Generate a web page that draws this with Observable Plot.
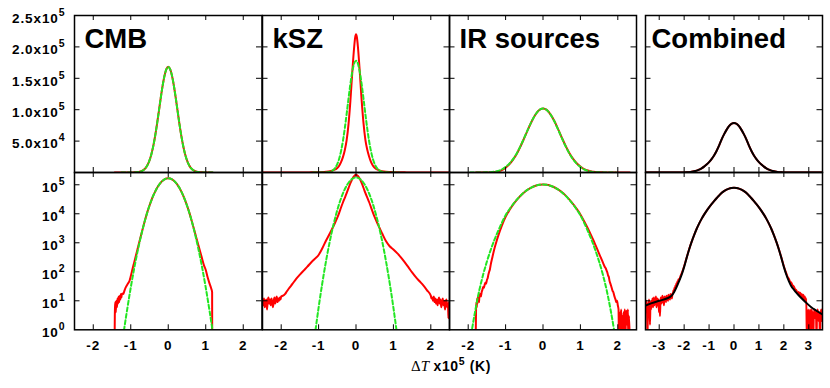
<!DOCTYPE html>
<html><head><meta charset="utf-8">
<script src="https://cdn.jsdelivr.net/npm/d3@7"></script>
<script src="https://cdn.jsdelivr.net/npm/@observablehq/plot@0.6"></script>
<style>
body{margin:0;background:#fff;}
#chart{position:relative;width:830px;height:388px;font-family:'Liberation Sans',Arial,Helvetica,sans-serif;background:#fff;}
.panel{position:absolute;}
#xlabel{position:absolute;left:331px;width:240px;top:358px;text-align:center;font-weight:bold;font-size:14px;line-height:16px;letter-spacing:0.6px;white-space:nowrap;}
#xlabel .dt{font-family:'Liberation Serif','Times New Roman',serif;font-weight:normal;font-size:15px;letter-spacing:0;}
#xlabel .sup{position:relative;top:-6px;font-size:10.5px;}
</style></head><body>
<div id="chart"><div id="xlabel"><span class="dt">&Delta;<i>T</i></span> x10<span class="sup">5</span> (K)</div></div>
<script>
// ---------- data ----------
const titles = ["CMB", "kSZ", "IR sources", "Combined"];
const xTicksA = [-2, -1, 0, 1, 2];
const xTicksB = [-3, -2, -1, 0, 1, 2, 3];
const linTicks = [50000, 100000, 150000, 200000];
const linLabels = [50000, 100000, 150000, 200000, 250000];
const logTicks = [10, 100, 1000, 10000, 100000];
const logLabels = [1, 10, 100, 1000, 10000, 100000];

const cmbFit = [[-1.25,0.2],[-1.2,0.63],[-1.1,4.6],[-1.0,28.5],[-0.9,149],[-0.8,650],[-0.7,2390],[-0.6,7380],[-0.55,12200],[-0.5,19200],[-0.45,29000],[-0.4,41900],[-0.35,58000],[-0.3,76900],[-0.25,97700],[-0.2,118700],[-0.15,138200],[-0.1,154000],[-0.05,164400],[0,168000],[0.05,164400],[0.1,154000],[0.15,138200],[0.2,118700],[0.25,97700],[0.3,76900],[0.35,58000],[0.4,41900],[0.45,29000],[0.5,19200],[0.55,12200],[0.6,7380],[0.7,2390],[0.8,650],[0.9,149],[1.0,28.5],[1.1,4.6],[1.2,0.63],[1.25,0.2]];
const cmbData = [[-1.43,0.5],[-1.425,3],[-1.42,6],[-1.41,9],[-1.40,4],[-1.39,8],[-1.38,10],[-1.37,6],[-1.36,9],[-1.35,12],[-1.34,8],[-1.33,11],[-1.32,14],[-1.31,9],[-1.30,13],[-1.29,15],[-1.28,11],[-1.27,14],[-1.26,17],[-1.25,13],[-1.24,16],[-1.22,18],[-1.20,17],[-1.17,22],[-1.14,28],[-1.11,33],[-1.07,40],[-1.03,50],[-1.0,70],[-0.95,130],[-0.9,230],[-0.85,420],[-0.8,760],[-0.7,2450],[-0.6,7450],[-0.55,12300],[-0.5,19300],[-0.45,29100],[-0.4,42000],[-0.35,58100],[-0.3,77000],[-0.25,97800],[-0.2,118800],[-0.15,138300],[-0.1,154200],[-0.05,164600],[0,168400],[0.05,164500],[0.1,154100],[0.15,138200],[0.2,118700],[0.25,97600],[0.3,76800],[0.35,57900],[0.4,41900],[0.45,29000],[0.5,19300],[0.55,12300],[0.6,7450],[0.7,2550],[0.8,850],[0.85,500],[0.9,290],[0.95,170],[1.0,115],[1.05,65],[1.1,40],[1.14,28],[1.17,20],[1.172,0.5]];

const kszFit = [[-1.15,0.21],[-1.1,0.66],[-1.0,5.8],[-0.9,41.3],[-0.8,239],[-0.75,534],[-0.7,1130],[-0.65,2265],[-0.6,4320],[-0.55,7820],[-0.5,13460],[-0.45,22000],[-0.4,34100],[-0.35,50200],[-0.3,70200],[-0.25,93300],[-0.2,117700],[-0.15,141100],[-0.1,160500],[-0.05,173500],[0,178000],[0.05,173500],[0.1,160500],[0.15,141100],[0.2,117700],[0.25,93300],[0.3,70200],[0.35,50200],[0.4,34100],[0.45,22000],[0.5,13460],[0.55,7820],[0.6,4320],[0.65,2265],[0.7,1130],[0.75,534],[0.8,239],[0.9,41.3],[1.0,5.8],[1.1,0.66],[1.15,0.21]];
const kszData = [[-2.5,10],[-2.48,7],[-2.46,12],[-2.44,6],[-2.42,9],[-2.4,11],[-2.38,5],[-2.36,10],[-2.34,13],[-2.32,8],[-2.3,11],[-2.28,7],[-2.26,12],[-2.24,9],[-2.22,6],[-2.2,10],[-2.18,13],[-2.16,8],[-2.14,11],[-2.12,14],[-2.1,9],[-2.08,12],[-2.06,10],[-2.04,13],[-2.02,11],[-2.0,14],[-1.95,15],[-1.9,17],[-1.85,21],[-1.8,26],[-1.7,38],[-1.6,57],[-1.5,80],[-1.4,110],[-1.3,150],[-1.2,210],[-1.1,280],[-1.0,380],[-0.9,650],[-0.8,1200],[-0.7,2100],[-0.6,3800],[-0.5,7300],[-0.45,10800],[-0.4,16500],[-0.35,24500],[-0.3,35500],[-0.25,51500],[-0.2,77000],[-0.15,114000],[-0.1,159000],[-0.05,199000],[-0.025,214000],[0,220000],[0.025,215000],[0.05,201000],[0.1,161000],[0.15,116000],[0.2,79000],[0.25,52500],[0.3,36500],[0.35,25500],[0.4,17000],[0.45,11200],[0.5,7600],[0.6,3900],[0.7,2100],[0.8,1150],[0.9,760],[1.0,590],[1.1,440],[1.2,316],[1.3,215],[1.4,144],[1.5,95],[1.6,65],[1.7,47],[1.8,34],[1.9,23],[2.0,15],[2.02,12],[2.04,13],[2.06,10],[2.08,14],[2.1,9],[2.12,12],[2.14,8],[2.16,11],[2.18,7],[2.2,10],[2.22,13],[2.24,8],[2.26,11],[2.28,6],[2.3,9],[2.32,12],[2.34,7],[2.36,10],[2.38,5],[2.4,9],[2.42,11],[2.44,6],[2.46,8],[2.47,2.5],[2.48,9],[2.5,7]];

const irFit = [[-1.95,0.4],[-1.9,1.0],[-1.8,5.5],[-1.7,24],[-1.6,80],[-1.5,225],[-1.4,560],[-1.3,1250],[-1.2,2550],[-1.1,4900],[-1.0,8900],[-0.9,14100],[-0.8,21300],[-0.7,30700],[-0.6,42300],[-0.5,55400],[-0.4,69000],[-0.3,81900],[-0.2,92400],[-0.1,99500],[0,102000],[0.1,99500],[0.2,92400],[0.3,81900],[0.4,69000],[0.5,55400],[0.6,42300],[0.7,30700],[0.8,21300],[0.9,14100],[1.0,8900],[1.1,4900],[1.2,2550],[1.3,1250],[1.4,560],[1.5,225],[1.6,80],[1.7,24],[1.8,5.5],[1.9,1.0],[1.95,0.4]];
const irData = [[-1.80,0.5],[-1.79,5],[-1.78,9],[-1.77,6],[-1.76,12],[-1.75,8],[-1.74,14],[-1.73,10],[-1.72,13],[-1.71,9],[-1.70,15],[-1.68,17],[-1.66,14],[-1.64,20],[-1.62,24],[-1.60,30],[-1.58,28],[-1.56,36],[-1.54,42],[-1.52,39],[-1.50,52],[-1.48,60],[-1.46,80],[-1.44,100],[-1.42,120],[-1.4,170],[-1.35,330],[-1.3,620],[-1.25,1050],[-1.2,1700],[-1.1,3900],[-1.0,7800],[-0.9,13200],[-0.8,20600],[-0.7,30000],[-0.6,41800],[-0.5,55000],[-0.4,68700],[-0.3,81700],[-0.2,92300],[-0.1,99400],[0,101800],[0.1,99700],[0.2,92600],[0.3,82300],[0.4,69500],[0.5,56000],[0.6,43000],[0.7,31500],[0.8,22000],[0.9,14800],[1.0,9500],[1.1,5500],[1.2,3100],[1.3,1650],[1.35,1200],[1.4,850],[1.45,600],[1.5,420],[1.55,300],[1.6,210],[1.65,150],[1.68,130],[1.7,110],[1.72,95],[1.74,75],[1.76,66],[1.78,48],[1.8,40],[1.82,33],[1.84,27],[1.86,22],[1.88,20],[1.9,16],[1.92,13],[1.94,11],[1.96,9],[1.98,10],[2.0,7],[2.02,5],[2.03,0.5],[2.05,0.5],[2.06,4],[2.08,2],[2.09,5],[2.1,1],[2.12,3],[2.14,0.5],[2.15,4],[2.17,2.5],[2.19,5],[2.2,0.5],[2.22,3],[2.24,4.5],[2.25,1.5],[2.27,5],[2.28,0.5],[2.3,3],[2.32,0.5]];

const combFit = [[-3.55,6.8],[-3.3,8.3],[-3.0,10],[-2.7,12],[-2.5,15],[-2.4,20],[-2.3,30],[-2.2,48],[-2.1,79],[-2.0,148],[-1.9,302],[-1.8,590],[-1.7,1070],[-1.6,1840],[-1.5,2990],[-1.4,4570],[-1.3,6680],[-1.2,9330],[-1.1,12600],[-1.0,16600],[-0.9,21400],[-0.8,27200],[-0.7,34300],[-0.6,42700],[-0.5,52500],[-0.4,60700],[-0.3,67900],[-0.2,73800],[-0.1,77600],[0,79000],[0.1,77600],[0.2,73800],[0.3,67900],[0.4,60700],[0.5,52500],[0.6,42700],[0.7,34300],[0.8,27200],[0.9,21400],[1.0,16600],[1.1,12600],[1.2,9330],[1.3,6680],[1.4,4570],[1.5,2990],[1.6,1840],[1.7,1070],[1.8,590],[1.9,302],[2.0,148],[2.1,79],[2.2,48],[2.3,32],[2.4,24.5],[2.5,19],[2.7,12.5],[2.9,8.5],[3.1,6],[3.3,4.6],[3.55,3.4]];
const combData = [[-3.55,7],[-3.53,4],[-3.51,10],[-3.49,5],[-3.47,0.5],[-3.45,8],[-3.43,4],[-3.41,11],[-3.39,6],[-3.37,1.5],[-3.35,9],[-3.33,5],[-3.31,10],[-3.29,7],[-3.27,12],[-3.25,6],[-3.23,9],[-3.21,13],[-3.19,7],[-3.17,11],[-3.15,8],[-3.13,14],[-3.11,6],[-3.09,10],[-3.07,12],[-3.05,7],[-3.03,11],[-3.01,4],[-2.99,9],[-2.97,3],[-2.95,10],[-2.93,13],[-2.91,8],[-2.89,11],[-2.87,15],[-2.85,9],[-2.83,12],[-2.81,7],[-2.79,14],[-2.77,10],[-2.75,13],[-2.73,9],[-2.71,15],[-2.69,11],[-2.67,14],[-2.65,10],[-2.63,16],[-2.61,12],[-2.59,15],[-2.57,11],[-2.55,17],[-2.53,13],[-2.51,16],[-2.49,12],[-2.47,18],[-2.45,17],[-2.43,23],[-2.41,20],[-2.39,28],[-2.37,25],[-2.35,34],[-2.33,30],[-2.31,40],[-2.29,35],[-2.27,47],[-2.25,42],[-2.23,55],[-2.2,52],[-2.15,70],[-2.1,88],[-2.05,115],[-2.0,155],[-1.9,305],[-1.8,595],[-1.7,1075],[-1.6,1845],[-1.5,2990],[-1.4,4570],[-1.3,6680],[-1.2,9330],[-1.1,12600],[-1.0,16600],[-0.9,21400],[-0.8,27200],[-0.7,34300],[-0.6,42700],[-0.5,52500],[-0.4,60700],[-0.3,67900],[-0.2,73800],[-0.1,77600],[0,79000],[0.1,77600],[0.2,73800],[0.3,67900],[0.4,60700],[0.5,52500],[0.6,42700],[0.7,34300],[0.8,27200],[0.9,21400],[1.0,16600],[1.1,12600],[1.2,9330],[1.3,6680],[1.4,4570],[1.5,2990],[1.6,1840],[1.7,1075],[1.8,600],[1.9,310],[2.0,155],[2.05,115],[2.1,88],[2.15,66],[2.2,58],[2.25,45],[2.3,42],[2.35,34],[2.4,31],[2.45,25],[2.5,23],[2.55,18],[2.6,20],[2.63,15],[2.66,19],[2.69,13],[2.72,17],[2.75,12],[2.78,16],[2.81,11],[2.84,14],[2.87,9],[2.9,12],[2.92,0.5],[2.94,4],[2.96,2],[2.98,5],[3.0,1],[3.02,4],[3.04,3],[3.06,5],[3.08,0.5],[3.1,3],[3.12,5],[3.14,2],[3.16,4],[3.18,0.5],[3.2,3],[3.23,5],[3.26,2.5],[3.29,4],[3.31,0.5],[3.33,3.5],[3.36,5],[3.39,2],[3.42,4],[3.45,0.5],[3.47,3],[3.5,5],[3.52,2],[3.55,4]];

// ---------- layout ----------
const colLeft = [74, 261.5, 448.5, 644.5];
const colWidth = [187.5, 187, 187, 177];
const rowTop = [15, 172];
const rowHeight = [157, 157.3];
const xDomA = [-2.5, 2.5];
const xDomB = [-3.55, 3.55];

const RED = "#ff0000", GREEN = "#22e622", BLACK = "#000000";
const series = [
  {data: cmbData, fit: cmbFit, color: GREEN, dash: "4,2.5"},
  {data: kszData, fit: kszFit, color: GREEN, dash: "4,2.5"},
  {data: irData, fit: irFit, color: GREEN, dash: "4,2.5"},
  {data: combData, fit: combFit, color: BLACK, dash: null}
];

const fmtLin = d => { const e = Math.floor(Math.log10(d) + 1e-9); return (d / 10 ** e).toFixed(1) + "x10^" + e; };
const fmtLog = d => "10^" + Math.round(Math.log10(d));
const FONT = "'Liberation Sans', Arial, Helvetica, sans-serif";

const chart = document.getElementById("chart");

function panel(col, row) {
  const w = colWidth[col], h = rowHeight[row];
  const isLog = row === 1;
  const xt = col === 3 ? xTicksB : xTicksA;
  const yt = isLog ? logTicks : linTicks;
  const s = series[col];
  const marks = [
    Plot.line(s.data, {x: d => d[0], y: d => d[1], stroke: RED, strokeWidth: 2, curve: "monotone-x", clip: true}),
    Plot.line(s.fit, {x: d => d[0], y: d => d[1], stroke: s.color, strokeWidth: 2, strokeDasharray: s.dash, curve: "monotone-x", clip: true}),
    Plot.tickX(xt, {insetTop: h - 5, stroke: BLACK, strokeWidth: 1}),
    Plot.tickX(xt, {insetBottom: h - 5, stroke: BLACK, strokeWidth: 1}),
    Plot.tickY(yt, {insetRight: w - 5.5, stroke: BLACK, strokeWidth: 1}),
    Plot.tickY(yt, {insetLeft: w - 5.5, stroke: BLACK, strokeWidth: 1}),
    Plot.frame({stroke: BLACK, strokeWidth: 1.5})
  ];
  if (row === 0) {
    marks.push(Plot.text([titles[col]], {text: d => d, frameAnchor: "top-left", textAnchor: "start", lineAnchor: "top", dx: col === 3 ? 6 : 10, dy: 13, fontSize: 27.5, fontWeight: "bold", fontFamily: FONT}));
  }
  if (row === 1) {
    marks.push(Plot.axisX(xt, {anchor: "bottom", tickSize: 0, tickPadding: 11, tickFormat: d => String(d), label: null, fontSize: 13.5, fontWeight: "bold", fontFamily: FONT}));
  }
  if (col === 0) {
    marks.push(Plot.axisY(isLog ? logLabels : linLabels, {anchor: "left", tickSize: 0, tickPadding: 9, dy: 3, tickFormat: isLog ? fmtLog : fmtLin, label: null, fontSize: 13.5, fontWeight: "bold", fontFamily: FONT}));
  }
  const svg = Plot.plot({
    width: w, height: h,
    marginTop: 0, marginBottom: 0, marginLeft: 0, marginRight: 0,
    x: {domain: col === 3 ? xDomB : xDomA, ...(row === 1 ? {} : {axis: null})},
    y: {type: isLog ? "log" : "linear", domain: isLog ? [1, 265000] : [0, 250000], ...(col === 0 ? {} : {axis: null})},
    style: {background: "transparent", overflow: "visible", fontFamily: FONT, fontWeight: "bold", fontSize: "13.5px", color: "black"},
    marks
  });
  svg.classList.add("panel");
  svg.style.left = colLeft[col] + "px";
  svg.style.top = rowTop[row] + "px";
  svg.style.maxWidth = "none";
  // tick labels: weight, letter spacing and superscripts
  d3.select(svg).selectAll("g[aria-label$='tick label'] text").each(function () {
    const el = d3.select(this);
    el.style("letter-spacing", "0.9px").style("font-weight", "bold").style("font-size", "13.5px");
    const t = this.textContent;
    if (t.includes("^")) {
      const [b, e] = t.split("^");
      el.text(null);
      el.append("tspan").text(b);
      el.append("tspan").attr("dy", "-7").style("font-size", "10.5px").text(e);
    }
  });
  chart.appendChild(svg);
}

for (let r = 0; r < 2; r++) for (let c = 0; c < 4; c++) panel(c, r);
</script>
</body></html>
